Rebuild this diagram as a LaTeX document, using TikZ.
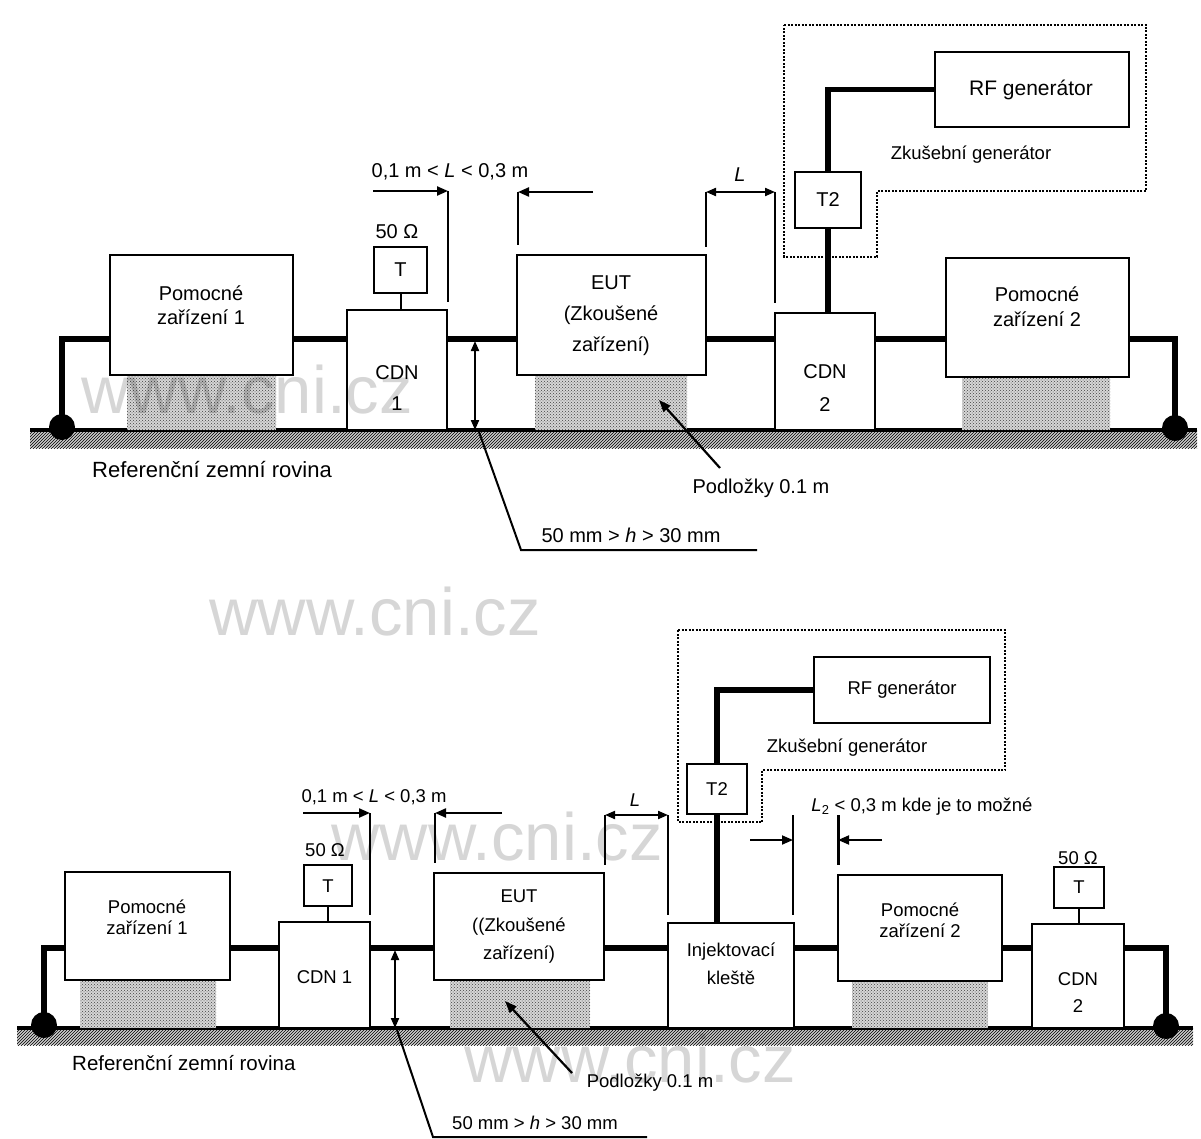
\documentclass[tikz,border=0pt]{standalone}
\usepackage{fontspec}
\setmainfont{Liberation Sans}
\usetikzlibrary{arrows.meta,patterns}
\tikzset{
 box/.style={draw, line width=2.6pt, fill=white, inner sep=0pt, outer sep=0pt},
 tbox/.style={draw, line width=2pt, fill=white, inner sep=0pt, outer sep=0pt},
 cable/.style={line width=5.5pt},
 wire/.style={line width=2pt},
 ext/.style={line width=2pt},
 dimr/.style={line width=2.2pt, -{Triangle[length=11pt,width=9pt]}},
 dimb/.style={line width=2pt, {Triangle[length=10pt,width=8pt]}-{Triangle[length=10pt,width=8pt]}},
 lead/.style={line width=2pt},
 leadarr/.style={line width=2.2pt, -{Triangle[length=12pt,width=9pt]}},
 pad/.style={fill=gray!32, postaction={pattern=crosshatch dots, pattern color=black!75}},
 gnd/.style={fill=gray!40, postaction={pattern=north east lines, pattern color=black}},
 gdot/.style={circle, fill=black, minimum size=26pt, inner sep=0pt},
 genframe/.style={line width=2pt, dash pattern=on 2pt off 1.5pt},
 lblA/.style={font=\fontsize{20}{24}\selectfont, inner sep=0pt, align=center},
 lblB/.style={font=\fontsize{18.5}{22}\selectfont, inner sep=0pt, align=center},
 wm/.style={font=\fontsize{67}{70}\selectfont, text=black, text opacity=0.16, inner sep=0pt, anchor=base},
}
\begin{document}
\begin{tikzpicture}[x=1pt,y=-1pt]
\useasboundingbox[fill=white] (0,0) rectangle (1201,1139);

% ================= TOP DIAGRAM =================
\fill[gnd] (30,430) rectangle (1197,448);
\draw[line width=3.5pt] (30,430) -- (1197,430);
\fill[pad] (127,375) rectangle (276,430);
\fill[pad] (535,375) rectangle (687,430);
\fill[pad] (962,377) rectangle (1110,430);

\draw[genframe] (784,25) -- (1146,25) -- (1146,191) -- (877,191) -- (877,257) -- (784,257) -- cycle;

\node[box, minimum width=183pt, minimum height=120pt] (P1) at (201.5,315) {};
\node[box, minimum width=100pt, minimum height=120pt] (C1) at (397,370) {};
\node[tbox, minimum width=53pt, minimum height=46pt] (T1) at (400.5,270) {};
\node[box, minimum width=189pt, minimum height=120pt] (EUT) at (611.5,315) {};
\node[box, minimum width=100pt, minimum height=117pt] (C2) at (825,371.5) {};
\node[tbox, minimum width=66pt, minimum height=56pt] (T2) at (828,200) {};
\node[box, minimum width=194pt, minimum height=75pt] (RF) at (1032,89.5) {};
\node[box, minimum width=183pt, minimum height=119pt] (P2) at (1037.5,317.5) {};
\node[gdot] (GL) at (62,427) {};
\node[gdot] (GR) at (1175,428) {};

\coordinate (lvT) at (0,339);
\draw[cable] (GL.center) -- (GL.center |- lvT) -- (P1.west |- lvT);
\draw[cable] (P1.east |- lvT) -- (C1.west |- lvT);
\draw[cable] (C1.east |- lvT) -- (EUT.west |- lvT);
\draw[cable] (EUT.east |- lvT) -- (C2.west |- lvT);
\draw[cable] (C2.east |- lvT) -- (P2.west |- lvT);
\draw[cable] (P2.east |- lvT) -- (GR.center |- lvT) -- (GR.center);
\draw[wire] (T1.south) -- (T1.south |- C1.north);
\draw[cable] (T2.south) -- (T2.south |- C2.north);
\draw[cable] (T2.north) -- (T2.north |- RF.west) -- (RF.west);

% dimensions top
\coordinate (ta1) at (373,191); \coordinate (ta2) at (448,191); \coordinate (ta3) at (448,302);
\draw[ext] (ta2) -- (ta3);
\draw[dimr] (ta1) -- (ta2);
\coordinate (tb1) at (593,192); \coordinate (tb2) at (518,192); \coordinate (tb3) at (518,245);
\draw[ext] (tb2) -- (tb3);
\draw[dimr] (tb1) -- (tb2);
\coordinate (tl1) at (706,192); \coordinate (tl2) at (775,192);
\coordinate (tl3) at (706,247); \coordinate (tl4) at (775,303);
\draw[ext] (tl1) -- (tl3);
\draw[ext] (tl2) -- (tl4);
\draw[dimb] (tl1) -- (tl2);
\coordinate (th1) at (475,341); \coordinate (th2) at (475,430);
\draw[dimb] (th1) -- (th2);
\coordinate (tq1) at (479,432); \coordinate (tq2) at (521,550); \coordinate (tq3) at (757,550);
\draw[lead] (tq1) -- (tq2) -- (tq3);
\coordinate (tp1) at (720,468); \coordinate (tp2) at (659,400);
\draw[leadarr] (tp1) -- (tp2);

% labels top
\node[lblA] (P1t) at (201,305) {Pomocné\\zařízení 1};
\node[lblA, font=\fontsize{20}{31}\selectfont] (C1t) at (397,388) {CDN\\1};
\node[lblA] (T1t) at (400.5,270) {T};
\node[lblA] (O1t) at (397,232) {50 Ω};
\node[lblA, font=\fontsize{20}{31}\selectfont] (EUTt) at (611,316) {EUT\\(Zkoušené\\zařízení)};
\node[lblA, font=\fontsize{20}{33}\selectfont] (C2t) at (825,388) {CDN\\2};
\node[lblA] (T2t) at (828,200) {T2};
\node[lblA, font=\fontsize{21}{24}\selectfont] (RFt) at (1031,90) {RF generátor};
\node[lblA, font=\fontsize{18.5}{22}\selectfont] (ZGt) at (971,155) {Zkušební generátor};
\node[lblA, font=\fontsize{20}{25}\selectfont] (P2t) at (1037,307) {Pomocné\\zařízení 2};
\node[lblA] (D1t) at (450,172) {0,1 m < \textit{L} < 0,3 m};
\node[lblA] (Lt) at (740,175) {\textit{L}};
\node[lblA, anchor=west, font=\fontsize{22}{24}\selectfont] (RZt) at (92,470) {Referenční zemní rovina};
\node[lblA] (PDt) at (761,488) {Podložky 0.1 m};
\node[lblA] (Ht) at (631,535) {50 mm > \textit{h} > 30 mm};

% ================= BOTTOM DIAGRAM =================
\fill[gnd] (17,1028) rectangle (1193,1045);
\draw[line width=3.5pt] (17,1028) -- (1193,1028);
\fill[pad] (80,980) rectangle (216,1028);
\fill[pad] (450,980) rectangle (590,1028);
\fill[pad] (852,981) rectangle (988,1028);

\draw[genframe] (678,630) -- (1005,630) -- (1005,770) -- (762,770) -- (762,822) -- (678,822) -- cycle;

\node[box, minimum width=165pt, minimum height=108pt] (bP1) at (147.5,926) {};
\node[box, minimum width=91pt, minimum height=106pt] (bC1) at (324.5,975) {};
\node[tbox, minimum width=48pt, minimum height=41pt] (bT1) at (328,885.5) {};
\node[box, minimum width=170pt, minimum height=107pt] (bEUT) at (519,926.5) {};
\node[box, minimum width=126pt, minimum height=105pt] (bINJ) at (731,975.5) {};
\node[tbox, minimum width=60pt, minimum height=50pt] (bT2) at (717,789) {};
\node[box, minimum width=176pt, minimum height=66pt] (bRF) at (902,690) {};
\node[box, minimum width=164pt, minimum height=106pt] (bP2) at (920,928) {};
\node[box, minimum width=92pt, minimum height=104pt] (bC2) at (1078,976) {};
\node[tbox, minimum width=50pt, minimum height=41pt] (bT3) at (1079,887.5) {};
\node[gdot] (bGL) at (44,1025) {};
\node[gdot] (bGR) at (1166,1026) {};

\coordinate (lvB) at (0,948);
\draw[cable] (bGL.center) -- (bGL.center |- lvB) -- (bP1.west |- lvB);
\draw[cable] (bP1.east |- lvB) -- (bC1.west |- lvB);
\draw[cable] (bC1.east |- lvB) -- (bEUT.west |- lvB);
\draw[cable] (bEUT.east |- lvB) -- (bINJ.west |- lvB);
\draw[cable] (bINJ.east |- lvB) -- (bP2.west |- lvB);
\draw[cable] (bP2.east |- lvB) -- (bC2.west |- lvB);
\draw[cable] (bC2.east |- lvB) -- (bGR.center |- lvB) -- (bGR.center);
\draw[wire] (bT1.south) -- (bT1.south |- bC1.north);
\draw[wire] (bT3.south) -- (bT3.south |- bC2.north);
\draw[cable] (bT2.south) -- (bT2.south |- bINJ.north);
\draw[cable] (bT2.north) -- (bT2.north |- bRF.west) -- (bRF.west);

% dimensions bottom
\coordinate (ba1) at (303,813); \coordinate (ba2) at (370,813); \coordinate (ba3) at (370,915);
\draw[ext] (ba2) -- (ba3);
\draw[dimr] (ba1) -- (ba2);
\coordinate (bb1) at (502,813); \coordinate (bb2) at (435,813); \coordinate (bb3) at (435,863);
\draw[ext] (bb2) -- (bb3);
\draw[dimr] (bb1) -- (bb2);
\coordinate (bl1) at (605,815); \coordinate (bl2) at (668,815);
\coordinate (bl3) at (605,865); \coordinate (bl4) at (668,915);
\draw[ext] (bl1) -- (bl3);
\draw[ext] (bl2) -- (bl4);
\draw[dimb] (bl1) -- (bl2);
\coordinate (bm1) at (793,815); \coordinate (bm2) at (793,915);
\coordinate (bm3) at (838,815); \coordinate (bm4) at (838,865);
\draw[ext] (bm1) -- (bm2);
\draw[line width=3pt] (bm3) -- (bm4);
\coordinate (bn1) at (750,840); \coordinate (bn2) at (793,840);
\coordinate (bn3) at (882,840); \coordinate (bn4) at (838,840);
\draw[dimr, line width=1.8pt] (bn1) -- (bn2);
\draw[dimr, line width=1.8pt] (bn3) -- (bn4);
\coordinate (bh1) at (395,950); \coordinate (bh2) at (395,1028);
\draw[dimb] (bh1) -- (bh2);
\coordinate (bq1) at (397,1030); \coordinate (bq2) at (433,1137); \coordinate (bq3) at (647,1137);
\draw[lead] (bq1) -- (bq2) -- (bq3);
\coordinate (bp1) at (572,1073); \coordinate (bp2) at (505,1001);
\draw[leadarr] (bp1) -- (bp2);

% labels bottom
\node[lblB, font=\fontsize{18.5}{21}\selectfont] (bP1t) at (147,917) {Pomocné\\zařízení 1};
\node[lblB] (bC1t) at (324.5,977) {CDN 1};
\node[lblB] (bT1t) at (328,886) {T};
\node[lblB] (bO1t) at (325,850) {50 Ω};
\node[lblB, font=\fontsize{18.5}{28.5}\selectfont] (bEUTt) at (519,927) {EUT\\((Zkoušené\\zařízení)};
\node[lblB, font=\fontsize{18.5}{28}\selectfont] (bINJt) at (731,964) {Injektovací\\kleště};
\node[lblB] (bT2t) at (717,789) {T2};
\node[lblB] (bRFt) at (902,690) {RF generátor};
\node[lblB] (bZGt) at (847,748) {Zkušební generátor};
\node[lblB, font=\fontsize{18.5}{21}\selectfont] (bP2t) at (920,920) {Pomocné\\zařízení 2};
\node[lblB, font=\fontsize{18.5}{27}\selectfont] (bC2t) at (1078,993) {CDN\\2};
\node[lblB] (bT3t) at (1079,887.5) {T};
\node[lblB] (bO3t) at (1078,858) {50 Ω};
\node[lblB] (bD1t) at (374,797) {0,1 m < \textit{L} < 0,3 m};
\node[lblB] (bLt) at (635,800) {\textit{L}};
\node[lblB] (bL2t) at (922,807) {\textit{L}\textsubscript{2} < 0,3 m kde je to možné};
\node[lblB, anchor=west, font=\fontsize{20.5}{24}\selectfont] (bRZt) at (72,1063) {Referenční zemní rovina};
\node[lblB] (bPDt) at (650,1083) {Podložky 0.1 m};
\node[lblB] (bHt) at (535,1123) {50 mm > \textit{h} > 30 mm};

% watermarks
\node[wm] (wm1) at (247,413) {www.cni.cz};
\node[wm] (wm2) at (375,635) {www.cni.cz};
\node[wm] (wm3) at (497,860) {www.cni.cz};
\node[wm] (wm4) at (630,1082) {www.cni.cz};
\end{tikzpicture}
\end{document}
